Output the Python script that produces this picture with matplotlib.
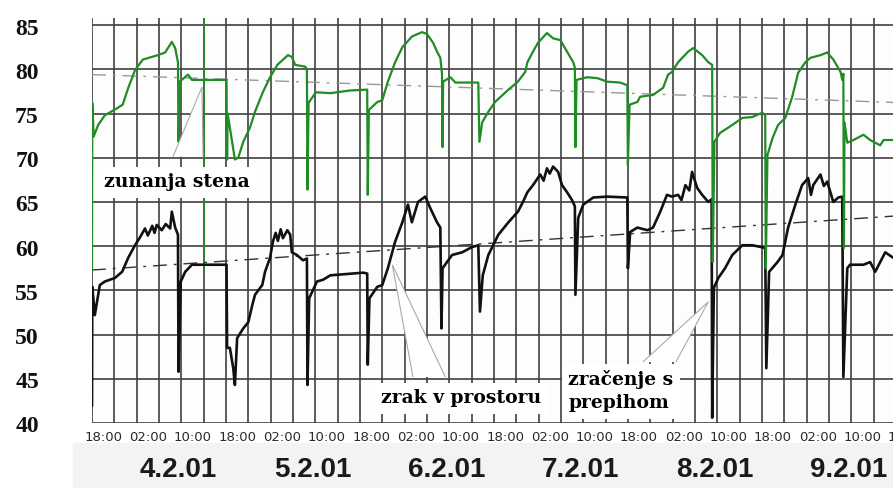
import matplotlib.pyplot as plt
import matplotlib.transforms as mtransforms
from matplotlib.patches import Polygon, Rectangle
import numpy as np

# cas v urah od 3.2.01 18:00, temperatura v °C
stena = [
    (0.0, 57.5), (0.05, 76.2), (0.3, 72.4), (1.1, 73.7), (2.3, 74.8), (4.5, 75.6),
    (5.5, 76.0), (6.5, 77.9), (7.7, 79.9), (9.1, 81.1), (11.8, 81.6), (13.1, 81.9),
    (14.3, 83.1), (14.9, 82.4), (15.4, 80.8), (15.5, 71.8), (15.7, 78.6), (17.2, 79.4),
    (17.9, 78.8), (24.1, 78.8), (24.2, 69.8), (24.3, 75.0), (25.6, 69.8), (26.2, 70.0),
    (27.1, 71.8), (28.3, 73.4), (29.2, 75.2), (30.6, 77.4), (31.9, 79.1), (33.2, 80.5),
    (35.1, 81.6), (35.8, 81.4), (36.4, 80.5), (38.2, 80.3), (38.5, 80.0), (38.6, 66.4),
    (38.8, 76.2), (40.1, 77.4), (42.7, 77.3), (46.2, 77.6), (49.3, 77.7), (49.4, 65.8),
    (49.6, 75.4), (51.1, 76.3), (52.0, 76.5), (53.0, 78.6), (54.3, 80.8), (55.6, 82.5),
    (57.3, 83.7), (59.1, 84.2), (60.0, 84.0), (61.1, 83.0), (61.8, 82.0), (62.4, 81.3),
    (62.7, 79.5), (62.8, 71.2), (62.9, 78.6), (64.2, 79.1), (65.1, 78.5), (69.2, 78.5),
    (69.4, 71.8), (69.9, 74.0), (71.0, 75.2), (72.2, 76.3), (74.6, 77.7), (76.3, 78.6),
    (77.6, 79.7), (78.0, 80.8), (79.0, 82.0), (79.9, 83.0), (81.5, 84.1), (82.6, 83.5),
    (83.9, 83.3), (85.1, 82.0), (86.2, 80.8), (86.5, 80.2), (86.6, 71.2), (86.8, 78.8),
    (88.7, 79.1), (90.5, 79.0), (92.3, 78.6), (94.6, 78.5), (95.9, 78.2), (96.0, 69.2),
    (96.3, 76.0), (97.7, 76.3), (98.2, 76.9), (100.5, 77.1), (102.3, 77.9), (103.2, 79.4),
    (103.9, 79.7), (105.0, 80.8), (106.8, 82.0), (107.7, 82.4), (109.3, 81.6), (110.4, 80.8),
    (111.1, 80.5), (111.2, 58.2), (111.5, 71.8), (112.5, 72.8), (114.7, 73.7), (116.5, 74.5),
    (118.3, 74.6), (120.1, 75.1), (120.6, 74.8), (120.7, 57.5), (121.0, 70.3), (121.9, 72.2),
    (122.9, 73.7), (124.2, 74.5), (125.4, 76.8), (126.5, 79.6), (127.8, 80.8), (128.7, 81.3),
    (130.5, 81.6), (131.7, 81.9), (132.8, 81.1), (134.1, 79.7), (134.4, 78.8), (134.6, 79.5),
    (134.7, 59.8), (134.8, 74.0), (135.3, 71.7), (136.4, 72.0), (138.2, 72.6), (139.4, 72.0),
    (141.2, 71.4), (141.8, 72.0), (143.5, 72.0), (146.0, 72.0),
]

zrak = [
    (0.0, 42.0), (0.05, 55.4), (0.5, 52.2), (1.4, 55.6), (2.3, 56.0), (4.1, 56.4),
    (5.4, 57.1), (6.5, 58.7), (7.7, 60.1), (8.6, 61.0), (9.5, 62.0), (10.0, 61.2),
    (10.8, 62.3), (11.2, 61.5), (11.6, 62.4), (12.5, 61.8), (13.2, 62.5), (14.0, 62.0),
    (14.3, 63.9), (14.9, 62.1), (15.4, 61.3), (15.5, 45.8), (15.9, 56.0), (16.7, 57.1),
    (17.9, 57.9), (24.1, 57.9), (24.2, 48.5), (24.7, 48.5), (25.3, 46.2), (25.6, 44.3),
    (26.0, 49.6), (27.1, 50.7), (28.0, 51.4), (28.7, 53.3), (29.2, 54.5), (30.5, 55.6),
    (31.0, 57.1), (31.9, 58.7), (32.4, 60.5), (32.9, 61.5), (33.3, 60.6), (33.8, 61.9),
    (34.2, 60.9), (35.0, 61.8), (35.5, 61.3), (35.8, 59.3), (36.7, 59.0), (37.8, 58.4),
    (38.5, 58.6), (38.6, 44.3), (38.9, 54.1), (40.3, 56.0), (41.4, 56.2), (42.7, 56.7),
    (48.6, 57.0), (49.3, 56.9), (49.4, 46.6), (49.7, 54.1), (51.1, 55.4), (52.0, 55.6),
    (53.0, 57.5), (54.3, 60.5), (55.6, 62.7), (56.6, 64.7), (57.3, 62.7), (58.4, 65.0),
    (59.7, 65.6), (60.6, 64.3), (61.8, 62.7), (62.4, 62.1), (62.6, 50.7), (62.8, 57.5),
    (64.5, 59.0), (66.3, 59.3), (68.1, 59.9), (69.2, 60.1), (69.5, 52.6), (70.0, 56.7),
    (71.0, 59.0), (72.8, 61.3), (74.6, 62.7), (76.3, 63.9), (77.2, 65.0), (78.0, 66.1),
    (79.0, 66.9), (80.3, 68.1), (80.9, 67.4), (81.5, 68.8), (82.0, 68.2), (82.6, 69.0),
    (83.5, 68.4), (84.2, 66.9), (85.1, 66.1), (86.0, 65.2), (86.5, 64.5), (86.6, 54.5),
    (87.1, 63.2), (88.0, 64.7), (89.8, 65.5), (92.3, 65.6), (95.9, 65.5), (96.0, 57.5),
    (96.4, 61.6), (97.7, 62.1), (99.5, 61.8), (100.5, 62.1), (101.8, 63.9), (103.0, 65.8),
    (103.9, 65.6), (105.0, 65.8), (105.6, 65.2), (106.3, 66.9), (107.0, 66.3), (107.5, 68.4),
    (108.4, 66.6), (109.3, 65.8), (110.4, 65.0), (111.0, 65.3), (111.1, 40.6), (111.4, 55.3),
    (112.2, 56.4), (113.4, 57.5), (114.7, 59.0), (116.5, 60.1), (118.3, 60.1), (120.6, 59.8),
    (120.8, 46.2), (121.3, 57.1), (122.8, 58.2), (123.7, 59.0), (124.7, 62.1), (126.0, 64.7),
    (127.2, 66.9), (128.3, 67.7), (128.8, 65.8), (129.2, 66.9), (130.5, 68.1), (131.1, 66.8),
    (131.7, 67.3), (132.8, 65.0), (133.7, 65.5), (134.4, 65.6), (134.6, 45.2), (135.3, 57.5),
    (135.8, 57.9), (138.2, 57.9), (139.4, 58.2), (140.3, 57.1), (141.2, 58.2), (142.1, 59.3),
    (143.5, 58.7), (146.0, 58.7),
]

# linearni trend (zacetek, konec)
trend_stena = [79.4, 76.2]
trend_zrak = [57.3, 63.5]

ure = ['18:00', '02:00', '10:00']
datumi = ['4.2.01', '5.2.01', '6.2.01', '7.2.01', '8.2.01', '9.2.01']
y_oznake = [40, 45, 50, 55, 60, 65, 70, 75, 80, 85]

ZELENA = '#1f8c24'

fig = plt.figure(figsize=(8.93, 4.88), dpi=100)
fig.patches.append(Rectangle((73 / 893, 0), 1, 45 / 488, transform=fig.transFigure,
                             color='#f3f3f3', zorder=-5))
ax = fig.add_axes([92 / 893, 65 / 488, 815 / 893, 405 / 488])
ax.set_xlim(0, 146)
ax.set_ylim(40, 85.8)
ax.set_facecolor('#fdfdfd')
for s in ax.spines.values():
    s.set_visible(False)

# mreza na 4 ure in 5 °C
ax.set_xticks(np.arange(0, 147, 4))
ax.set_yticks(y_oznake)
ax.tick_params(length=0, labelbottom=False, labelleft=False)
ax.grid(True, color='#404040', lw=1.2)
ax.plot([20, 20], [57.5, 85.8], color=ZELENA, lw=1.2, zorder=2)

t_z, v_z = np.array(zrak).T
t_s, v_s = np.array(stena).T
ax.plot([0, 146], trend_zrak, color='#333333', lw=1.0, ls=(0, (10, 5, 2, 5)), zorder=2)
ax.plot([0, 146], trend_stena, color='#999999', lw=1.0, ls=(0, (10, 5, 2, 5)), zorder=2)
ax.plot(t_z, v_z, color='#111111', lw=1.9, zorder=3)
ax.plot(t_s, v_s, color=ZELENA, lw=1.6, zorder=4)

# oznake na osi y
tr = mtransforms.blended_transform_factory(fig.transFigure, ax.transData)
for v in y_oznake:
    ax.text(27 / 893, v - 0.45, str(v), transform=tr, ha='center', va='center',
            fontsize=17, fontweight='bold', family='Liberation Serif', color='#111111')

# ure in datumi pod grafom
for i, t in enumerate(range(0, 145, 8)):
    ax.text(t + 2, 38.4, ure[i % 3], ha='center', va='center', fontsize=9.5,
            color='#2a2a2a', clip_on=False)
for i, d in enumerate(datumi):
    ax.text(15.5 + 24 * i, 34.7, d, ha='center', va='center', fontsize=20,
            fontweight='bold', family='Liberation Sans', color='#1a1a1a',
            clip_on=False, zorder=10)

# napisi s kazalci
txt = dict(fontsize=13.5, fontweight='bold', family='DejaVu Serif', color='#000000', zorder=6)
box = dict(boxstyle='square,pad=0.35', fc='white', ec='none')

ax.add_patch(Polygon([(14.5, 70.1), (19.7, 78.0), (19.9, 70.1)], closed=False,
                     fc='white', ec='#aaaaaa', lw=0.8, zorder=5))
ax.text(15.2, 67.2, 'zunanja stena', ha='center', va='center', bbox=box, **txt)

ax.add_patch(Polygon([(57.5, 45.2), (53.8, 57.9), (63.3, 45.2)], closed=False,
                     fc='white', ec='#aaaaaa', lw=0.8, zorder=5))
ax.text(66.1, 42.8, 'zrak v prostoru', ha='center', va='center', bbox=box, **txt)

ax.add_patch(Polygon([(98.7, 46.9), (110.4, 53.7), (104.6, 46.9)], closed=False,
                     fc='white', ec='#aaaaaa', lw=0.8, zorder=5))
ax.text(85.3, 43.6, 'zračenje s\nprepihom', ha='left', va='center', linespacing=1.35,
        bbox=box, **txt)

fig.savefig('out.png', dpi=100)
